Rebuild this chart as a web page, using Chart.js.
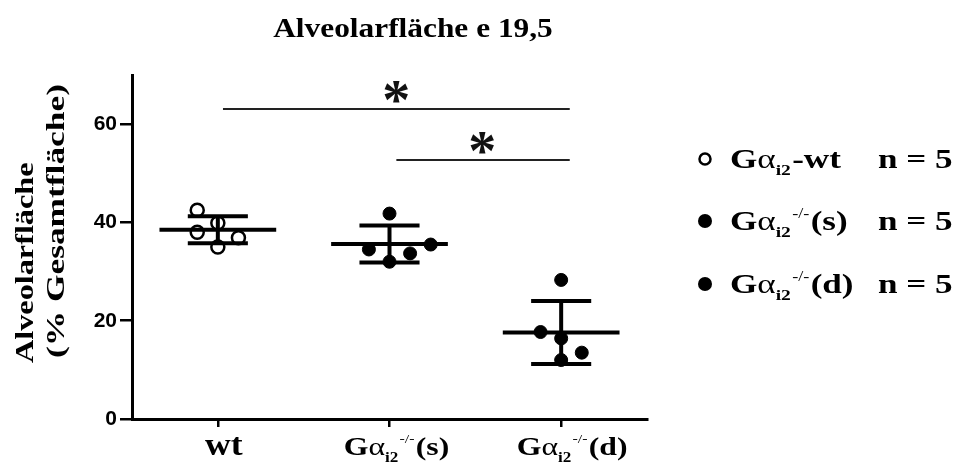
<!DOCTYPE html>
<html>
<head>
<meta charset="utf-8">
<script src="https://cdn.jsdelivr.net/npm/chart.js@4"></script>
<style>
  html,body{margin:0;padding:0;background:#fff;}
  #wrap{width:960px;height:465px;}
</style>
</head>
<body>
<div id="wrap"><canvas id="c" width="960" height="465"></canvas></div>
<script>
'use strict';

// --- data: Alveolarfläche (% Gesamtfläche), E19.5, n = 5 per group
const groupPos = [1, 2, 3];
const wtVals = [42.5, 38.0, 39.9, 35.0, 36.9];
const wtJit  = [-0.12, -0.12, 0, 0, 0.12];
const sVals  = [41.8, 34.5, 32.0, 33.7, 35.5];
const sJit   = [0, -0.12, 0, 0.12, 0.24];
const dVals  = [28.3, 17.7, 16.4, 12.0, 13.5];
const dJit   = [0, -0.12, 0, 0, 0.12];
const means  = [38.5, 35.6, 17.6];
const sds    = [2.75, 3.75, 6.4];
const yTicks = [0, 20, 40, 60];
// significance brackets: [from x, to x, y], star: [x, y]
const sigLines = [[1.03, 3.05, 63.1], [2.04, 3.05, 52.7]];
const sigStars = [[2.04, 66.3], [2.54, 56.0]];

const SERIF = "'Liberation Serif', 'Times New Roman', serif";
const SANS  = "'Liberation Sans', Arial, sans-serif";
const SX = 1.22; // text is set a bit wide

const pts = (vals, jit, c) => vals.map((v, i) => ({x: c + jit[i], y: v}));
const seg = (x1, y1, x2, y2) => [{x: x1, y: y1}, {x: x2, y: y2}];

const lineSets = [];
groupPos.forEach((c, i) => {
  const m = means[i], s = sds[i];
  [seg(c - 0.34, m, c + 0.34, m),
   seg(c - 0.175, m + s, c + 0.175, m + s),
   seg(c - 0.175, m - s, c + 0.175, m - s),
   seg(c, m - s, c, m + s)].forEach(d => lineSets.push({
     type: 'line', data: d, borderColor: '#000', borderWidth: 4,
     pointRadius: 0, borderCapStyle: 'butt', order: 0
   }));
});
sigLines.forEach(([a, b, y]) => lineSets.push({
  type: 'line', data: seg(a, y, b, y), borderColor: '#222', borderWidth: 2,
  pointRadius: 0, order: 0
}));

// rich text: parts drawn left to right, horizontally scaled by sx
function rich(ctx, parts, x, y, align, sx) {
  let w = 0;
  parts.forEach(p => { ctx.font = p.f; w += ctx.measureText(p.t).width + (p.g || 0); });
  ctx.save();
  ctx.translate(x, y);
  ctx.scale(sx, 1);
  let cx = align === 'center' ? -w / 2 : align === 'right' ? -w : 0;
  ctx.textAlign = 'left';
  ctx.textBaseline = 'alphabetic';
  ctx.fillStyle = '#000';
  parts.forEach(p => {
    ctx.font = p.f;
    ctx.fillText(p.t, cx, p.dy || 0);
    cx += ctx.measureText(p.t).width + (p.g || 0);
  });
  ctx.restore();
}

function galpha(size, tail, supTxt) {
  const p = [
    {t: 'G', f: `bold ${size}px ${SERIF}`},
    {t: 'α', f: `${size}px ${SERIF}`},
    {t: 'i2', f: `bold ${Math.round(size * 0.55)}px ${SERIF}`, dy: size * 0.25, g: 1}
  ];
  if (supTxt) p.push({t: supTxt, f: `${Math.round(size * 0.5)}px ${SERIF}`, dy: -size * 0.45, g: 1});
  p.push({t: tail, f: `bold ${size}px ${SERIF}`});
  return p;
}

const textPlugin = {
  id: 'texts',
  afterDraw(chart) {
    const ctx = chart.ctx, xs = chart.scales.x, ys = chart.scales.y;
    // title
    rich(ctx, [{t: 'Alveolarfläche e 19,5', f: `bold 28px ${SERIF}`}], 413, 37, 'center', 1.12);

    // y-axis title, rotated, two lines starting from the bottom
    ctx.save();
    ctx.translate(33, 363);
    ctx.rotate(-Math.PI / 2);
    rich(ctx, [{t: 'Alveolarfläche', f: `bold 26px ${SERIF}`}], 0, 0, 'left', 1.24);
    rich(ctx, [{t: '(% Gesamtfläche)', f: `bold 26px ${SERIF}`}], 5, 31, 'left', 1.36);
    ctx.restore();

    // category labels
    const by = 455;
    rich(ctx, [{t: 'wt', f: `bold 31px ${SERIF}`}], xs.getPixelForValue(1) + 6, by, 'center', 1.15);
    rich(ctx, galpha(26, '(s)', '-/-'), xs.getPixelForValue(2) + 7, by, 'center', SX);
    rich(ctx, galpha(26, '(d)', '-/-'), xs.getPixelForValue(3) + 11, by, 'center', SX);

    // significance stars
    sigStars.forEach(([x, y]) => {
      ctx.save();
      ctx.font = `bold 56px ${SERIF}`;
      ctx.textAlign = 'center';
      ctx.textBaseline = 'alphabetic';
      ctx.fillStyle = '#111';
      ctx.fillText('*', xs.getPixelForValue(x), ys.getPixelForValue(y) + 26);
      ctx.restore();
    });

    // legend
    const rows = [
      {y: 168, open: true, parts: galpha(27, '-wt', null)},
      {y: 230, open: false, parts: galpha(27, '(s)', '-/-')},
      {y: 293, open: false, parts: galpha(27, '(d)', '-/-')}
    ];
    rows.forEach(r => {
      ctx.save();
      ctx.beginPath();
      ctx.arc(705, r.y - 9, r.open ? 5.5 : 7, 0, Math.PI * 2);
      if (r.open) { ctx.lineWidth = 2.5; ctx.strokeStyle = '#000'; ctx.stroke(); }
      else { ctx.fillStyle = '#000'; ctx.fill(); }
      ctx.restore();
      rich(ctx, r.parts, 730, r.y, 'left', 1.3);
      rich(ctx, [{t: 'n = 5', f: `bold 27px ${SERIF}`}], 878, r.y, 'left', 1.3);
    });
  }
};

const pointStyle = (open) => ({
  type: 'scatter', pointRadius: 6.5, pointHoverRadius: 6.5,
  pointBackgroundColor: open ? '#fff' : '#000', pointBorderColor: '#000',
  pointBorderWidth: open ? 2.5 : 1, showLine: false, order: 1
});

new Chart(document.getElementById('c'), {
  type: 'scatter',
  data: {
    datasets: [
      {label: 'wt', data: pts(wtVals, wtJit, groupPos[0]), ...pointStyle(true)},
      {label: 's', data: pts(sVals, sJit, groupPos[1]), ...pointStyle(false)},
      {label: 'd', data: pts(dVals, dJit, groupPos[2]), ...pointStyle(false)},
      ...lineSets
    ]
  },
  options: {
    responsive: false, animation: false, devicePixelRatio: 1,
    layout: {padding: {left: 0, right: 313, top: 75, bottom: 0}},
    plugins: {legend: {display: false}, tooltip: {enabled: false}},
    scales: {
      x: {
        type: 'linear', min: 0.5, max: 3.5,
        afterBuildTicks: s => { s.ticks = groupPos.map(v => ({value: v})); },
        afterFit: s => { s.height = 46; },
        ticks: {display: false},
        grid: {drawOnChartArea: false, drawTicks: true, tickLength: 8, color: '#000', lineWidth: 2.5},
        border: {display: true, color: '#000', width: 3}
      },
      y: {
        min: 0, max: 70,
        afterBuildTicks: s => { s.ticks = yTicks.map(v => ({value: v})); },
        afterFit: s => { s.width = 132; },
        ticks: {color: '#000', font: {family: SANS, size: 21, weight: 'bold'}, padding: 3},
        grid: {drawOnChartArea: false, drawTicks: true, tickLength: 12, color: '#000', lineWidth: 2.5},
        border: {display: true, color: '#000', width: 3}
      }
    }
  },
  plugins: [textPlugin]
});
</script>
</body>
</html>
